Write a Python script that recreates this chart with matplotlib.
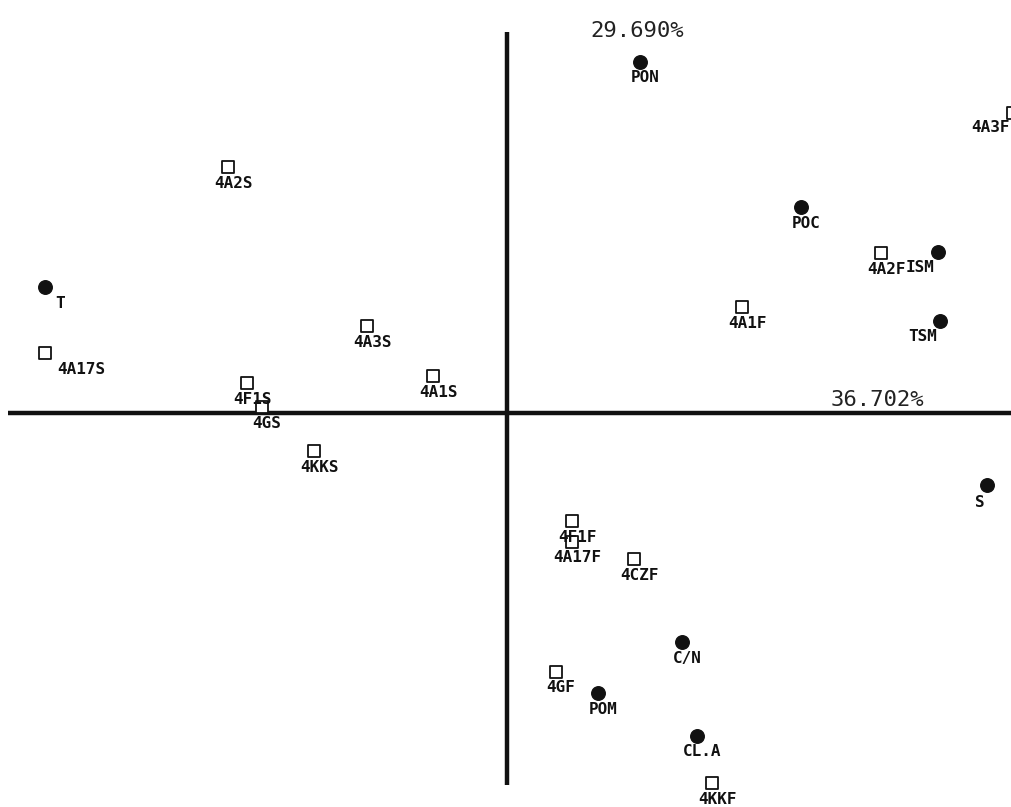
import matplotlib.pyplot as plt

plt.rcParams['font.family'] = 'DejaVu Sans Mono'

# factor scores for the descriptors (filled circles)
var_names = ['PON', 'POC', 'ISM', 'TSM', 'T', 'S', 'C/N', 'POM', 'CL.A']
var_x = [1.33, 2.94, 4.31, 4.33, -4.62, 4.80, 1.75, 0.91, 1.90]
var_y = [3.51, 2.06, 1.61, 0.92, 1.26, -0.72, -2.29, -2.80, -3.23]

# factor scores for the samples (open squares)
obs_names = ['4A3F', '4A2S', '4A2F', '4A1F', '4A17S', '4A3S', '4A1S', '4F1S',
             '4GS', '4KKS', '4F1F', '4A17F', '4CZF', '4GF', '4KKF']
obs_x = [5.06, -2.79, 3.74, 2.35, -4.62, -1.40, -0.74, -2.60,
         -2.45, -1.93, 0.65, 0.65, 1.27, 0.49, 2.05]
obs_y = [3.00, 2.46, 1.60, 1.06, 0.60, 0.87, 0.37, 0.30,
         0.06, -0.38, -1.08, -1.29, -1.46, -2.59, -3.70]

axis1_label = '36.702%'
axis2_label = '29.690%'

# label offsets in pixels (dx, dy) where the label is not just under the mark
shift = {'T': (15, -16), '4A17S': (36, -16), 'ISM': (-18, -16),
         'TSM': (-17, -15), 'S': (-7, -17), '4A3F': (-23, -15)}

fig = plt.figure(figsize=(10.11, 8.07), dpi=100)
ax = fig.add_axes([0, 0, 1, 1])
ax.set_xlim(-5.07, 5.04)
ax.set_ylim(-3.94, 4.13)
ax.set_axis_off()

ax.plot([-4.99, 5.04], [0, 0], color='#111111', lw=3.2, solid_capstyle='butt')
ax.plot([0, 0], [-3.72, 3.81], color='#111111', lw=3.2, solid_capstyle='butt')

ax.scatter(var_x, var_y, s=95, marker='o', color='#111111', zorder=3)
ax.scatter(obs_x, obs_y, s=80, marker='s', facecolor='white',
           edgecolor='#111111', linewidth=1.3, zorder=3)

font = dict(fontsize=11.5, fontweight='bold', color='#111111',
            ha='center', va='center')
for names, xs, ys in [(var_names, var_x, var_y), (obs_names, obs_x, obs_y)]:
    for n, x, y in zip(names, xs, ys):
        dx, dy = shift.get(n, (5, -16))
        ax.annotate(n, (x, y), xytext=(dx * 0.72, dy * 0.72),
                    textcoords='offset points', annotation_clip=False,
                    zorder=4, **font)

ax.text(1.30, 3.82, axis2_label, fontsize=16, color='#222222',
        ha='center', va='center')
ax.text(3.70, 0.13, axis1_label, fontsize=16, color='#222222',
        ha='center', va='center')

fig.savefig('out.png', dpi=100, facecolor='white')
